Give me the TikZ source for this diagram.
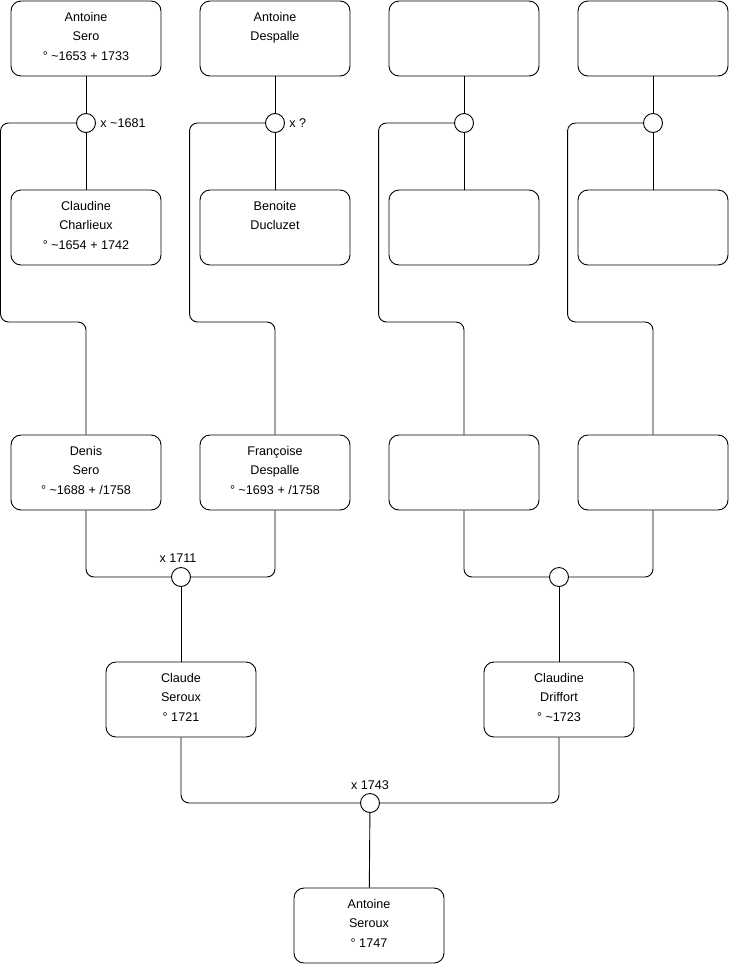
\documentclass[tikz,border=0pt]{standalone}
\usepackage{fontspec}
\setmainfont{Liberation Sans}
\begin{document}
\begin{tikzpicture}[x=1pt,y=-1pt, line width=0.9pt,
  box/.style={draw, rounded corners=10pt, minimum width=150pt, minimum height=75pt, inner sep=0pt},
  txt/.style={anchor=north, align=center, inner sep=0pt, font=\fontsize{12.6}{19.5}\selectfont},
  knot/.style={draw, circle, minimum size=19pt, inner sep=0pt, fill=white},
  lbl/.style={inner sep=0pt, font=\fontsize{12.6}{14}\selectfont},
  link/.style={rounded corners=8pt}]
\useasboundingbox (0,0) rectangle (740,975);
% boxes
\node[box] (A1) at (86,38.5) {};
\node[box] (A2) at (275,38.5) {};
\node[box] (A3) at (464,38.5) {};
\node[box] (A4) at (653,38.5) {};
\node[box] (B1) at (86,227.5) {};
\node[box] (B2) at (275,227.5) {};
\node[box] (B3) at (464,227.5) {};
\node[box] (B4) at (653,227.5) {};
\node[box] (C1) at (86,472.5) {};
\node[box] (C2) at (275,472.5) {};
\node[box] (C3) at (464,472.5) {};
\node[box] (C4) at (653,472.5) {};
\node[box] (D1) at (181,699.5) {};
\node[box] (D2) at (559,699.5) {};
\node[box] (E) at (369,925.5) {};
% texts
\node[txt] (tA1) at ([yshift=-11pt]A1.north) {Antoine\\Sero\\° \textasciitilde1653 + 1733};
\node[txt] (tA2) at ([yshift=-11pt]A2.north) {Antoine\\Despalle};
\node[txt] (tB1) at ([yshift=-11pt]B1.north) {Claudine\\Charlieux\\° \textasciitilde1654 + 1742};
\node[txt] (tB2) at ([yshift=-11pt]B2.north) {Benoite\\Ducluzet};
\node[txt] (tC1) at ([yshift=-11pt]C1.north) {Denis\\Sero\\° \textasciitilde1688 + /1758};
\node[txt] (tC2) at ([yshift=-11pt]C2.north) {Françoise\\Despalle\\° \textasciitilde1693 + /1758};
\node[txt] (tD1) at ([yshift=-11pt]D1.north) {Claude\\Seroux\\° 1721};
\node[txt] (tD2) at ([yshift=-11pt]D2.north) {Claudine\\Driffort\\° \textasciitilde1723};
\node[txt] (tE) at ([yshift=-11pt]E.north) {Antoine\\Seroux\\° 1747};
% marriage knots
\node[knot] (m1) at (86,123) {};
\node[knot] (m2) at (275,123) {};
\node[knot] (m3) at (464,123) {};
\node[knot] (m4) at (653,123) {};
\node[knot] (k1) at (181,577) {};
\node[knot] (k2) at (559,577) {};
\node[knot] (k3) at (370,803) {};
% labels
\node[lbl, anchor=west] (l1) at (100,123) {x \textasciitilde1681};
\node[lbl, anchor=west] (l2) at (289,123) {x ?};
\node[lbl] (l3) at (178,558) {x 1711};
\node[lbl] (l4) at (370,785) {x 1743};
% connectors
\foreach \i in {1,2,3,4}{
  \draw (A\i) -- (m\i);
  \draw (m\i) -- (B\i);
  \draw[link] (m\i.west) -- ++(-75.5,0) -- ++(0,199) -| (C\i.north);
}
\draw[link] (C1.south) |- (k1.west);
\draw[link] (C2.south) |- (k1.east);
\draw[link] (C3.south) |- (k2.west);
\draw[link] (C4.south) |- (k2.east);
\draw (k1) -- (D1);
\draw (k2) -- (D2);
\draw[link] (D1.south) |- (k3.west);
\draw[link] (D2.south) |- (k3.east);
\draw (k3) -- (E);
\end{tikzpicture}
\end{document}
